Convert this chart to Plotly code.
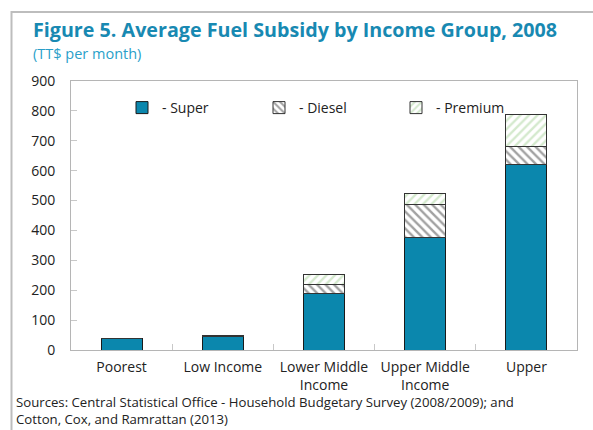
import plotly.graph_objects as go

categories = ["Poorest", "Low Income", "Lower Middle<br>Income", "Upper Middle<br>Income", "Upper"]
super_vals = [40, 46, 188, 377, 621]
diesel_vals = [0, 2, 31, 110, 61]
premium_vals = [0, 0, 33, 36, 106]
source_lines = ["Sources: Central Statistical Office - Household Budgetary Survey (2008/2009); and",
                "Cotton, Cox, and Ramrattan (2013)"]

FONT = "Open Sans"
L, R, T, B = 71, 16, 81, 80
W, H = 593, 430
pw, ph = W - L - R, H - T - B

def px_x(x):
    return (x - L) / pw

def px_y(y):
    return (H - B - y) / ph

fig = go.Figure()
fig.add_trace(go.Bar(x=categories, y=super_vals, name="- Super",
                     marker=dict(color="#0b87ad", line=dict(color="#1a1a1a", width=1))))
fig.add_trace(go.Bar(x=categories, y=diesel_vals, name="- Diesel",
                     marker=dict(color="white", line=dict(color="#333333", width=1),
                                 pattern=dict(shape="\\", fgcolor="#444444", bgcolor="white",
                                              size=6, solidity=0.4))))
fig.add_trace(go.Bar(x=categories, y=premium_vals, name="- Premium",
                     marker=dict(color="white", line=dict(color="#333333", width=1),
                                 pattern=dict(shape="/", fgcolor="#a9d49c", bgcolor="white",
                                              size=6, solidity=0.4))))

fig.update_layout(
    barmode="stack",
    bargap=0.595,
    width=W, height=H,
    margin=dict(l=L, r=R, t=T, b=B),
    paper_bgcolor="white", plot_bgcolor="white",
    font=dict(family=FONT, size=14, color="#222222"),
    legend=dict(orientation="h", x=px_x(122), y=px_y(108), xanchor="left", yanchor="middle",
                entrywidth=92, entrywidthmode="pixels", font=dict(size=14, color="#222222"),
                bgcolor="rgba(0,0,0,0)", traceorder="normal", itemclick=False),
    xaxis=dict(showline=True, linecolor="#b5b5b5", linewidth=1, mirror=True,
               ticks="inside", tickson="boundaries", ticklen=6, tickcolor="#c8c8c8",
               ticklabelstandoff=4,
               tickfont=dict(size=14, color="#222222"), showgrid=False, fixedrange=True),
    yaxis=dict(range=[0, 900], dtick=100, showline=True, linecolor="#b5b5b5", linewidth=1,
               mirror=True, ticks="inside", ticklen=6, tickcolor="#c8c8c8", showgrid=False,
               ticklabelstandoff=12,
               zeroline=False, tickfont=dict(size=14, color="#222222"), fixedrange=True),
    showlegend=True,
)

# outer frame
fig.add_shape(type="rect", xref="paper", yref="paper",
              x0=px_x(11.5), x1=px_x(640), y0=px_y(12), y1=px_y(480),
              line=dict(color="#bdbdbd", width=2), fillcolor="rgba(0,0,0,0)", layer="below")

fig.add_annotation(text="<b>Figure 5. Average Fuel Subsidy by Income Group, 2008</b>",
                   xref="paper", yref="paper", x=px_x(31), y=px_y(30),
                   xanchor="left", yanchor="middle", showarrow=False,
                   font=dict(family=FONT, size=19.7, color="#1889b2"))
fig.add_annotation(text="(TT$ per month)", xref="paper", yref="paper",
                   x=px_x(31), y=px_y(53), xanchor="left", yanchor="middle", showarrow=False,
                   font=dict(family=FONT, size=14.5, color="#2a9fc9"))
fig.add_annotation(text="<br>".join(source_lines),
                   xref="paper", yref="paper", x=px_x(14), y=px_y(430),
                   xanchor="left", yanchor="bottom", align="left", showarrow=False,
                   font=dict(family=FONT, size=13.2, color="#222222"))

fig.write_html("out.html", config={"displayModeBar": False},
               post_script="document.body.style.margin='0';document.body.style.padding='0';")
